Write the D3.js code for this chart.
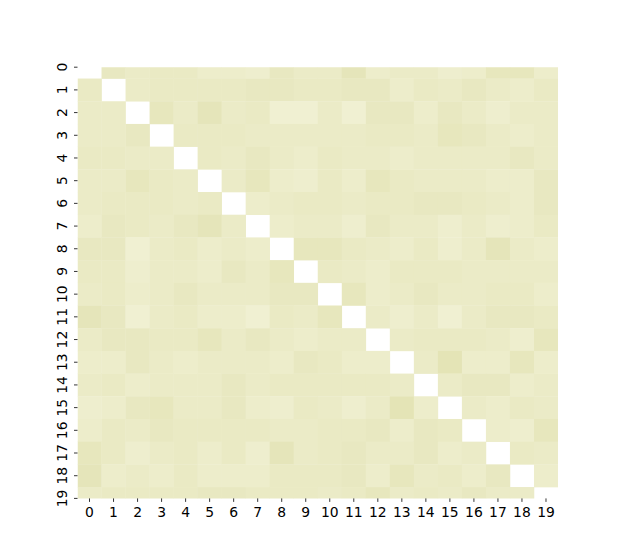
<!DOCTYPE html>
<html>
<head>
<meta charset="utf-8">
<script src="https://cdn.jsdelivr.net/npm/d3@7"></script>
<style>
  html, body { margin: 0; padding: 0; background: #ffffff; }
  svg { display: block; }
  text { font-family: "DejaVu Sans", sans-serif; }
</style>
</head>
<body>
<svg id="chart" width="620" height="560"></svg>
<script>
// Tick labels (categories) for both axes
const labels = d3.range(20).map(String);

// Cell values per row (0 = lightest, 10 = darkest); null = masked diagonal
const row0  = [null, 6, 4, 5, 5, 3, 3, 2, 6, 4, 4, 8, 3, 4, 4, 2, 3, 7, 7, 3];
const row1  = [5, null, 4, 5, 5, 5, 5, 6, 6, 5, 5, 6, 6, 3, 5, 4, 6, 4, 3, 5];
const row2  = [4, 4, null, 7, 4, 8, 4, 5, 1, 1, 4, 1, 6, 6, 3, 6, 4, 2, 4, 4];
const row3  = [4, 4, 6, null, 5, 5, 5, 4, 4, 4, 4, 4, 5, 5, 4, 7, 6, 4, 3, 4];
const row4  = [5, 5, 4, 4, null, 5, 4, 6, 4, 3, 5, 4, 4, 3, 4, 4, 4, 4, 6, 4];
const row5  = [4, 4, 7, 5, 4, null, 4, 7, 3, 2, 5, 3, 7, 5, 4, 4, 4, 3, 3, 6];
const row6  = [4, 5, 5, 5, 4, 5, null, 3, 4, 5, 5, 4, 5, 5, 6, 6, 5, 4, 3, 6];
const row7  = [3, 6, 5, 4, 6, 8, 4, null, 3, 4, 4, 2, 6, 4, 4, 2, 4, 2, 3, 5];
const row8  = [6, 6, 1, 4, 5, 3, 4, 3, null, 7, 7, 5, 4, 3, 5, 2, 4, 8, 4, 3];
const row9  = [5, 5, 2, 4, 4, 3, 6, 4, 7, null, 5, 4, 3, 5, 5, 5, 4, 4, 4, 4];
const row10 = [4, 5, 3, 4, 6, 4, 4, 4, 6, 6, null, 7, 3, 4, 6, 4, 4, 5, 5, 3];
const row11 = [8, 6, 1, 4, 5, 3, 3, 1, 5, 4, 7, null, 4, 2, 4, 1, 4, 6, 6, 5];
const row12 = [4, 6, 6, 5, 5, 7, 4, 6, 4, 3, 4, 4, null, 4, 5, 5, 5, 4, 2, 7];
const row13 = [3, 3, 6, 4, 3, 4, 4, 4, 3, 6, 5, 3, 3, null, 4, 9, 3, 3, 7, 3];
const row14 = [4, 5, 3, 4, 4, 4, 6, 4, 5, 5, 5, 5, 5, 4, null, 4, 6, 6, 3, 4];
const row15 = [2, 3, 6, 7, 4, 4, 6, 3, 2, 5, 4, 2, 4, 9, 3, null, 4, 3, 5, 4];
const row16 = [3, 5, 4, 6, 5, 5, 5, 5, 4, 4, 5, 5, 6, 3, 6, 5, null, 3, 2, 7];
const row17 = [7, 5, 2, 4, 5, 3, 5, 2, 8, 4, 5, 6, 4, 4, 6, 3, 4, null, 5, 4];
const row18 = [8, 3, 4, 3, 5, 3, 3, 3, 5, 5, 5, 6, 3, 7, 4, 5, 3, 6, null, 3];
const row19 = [4, 5, 5, 5, 5, 6, 6, 5, 5, 5, 4, 5, 7, 4, 5, 4, 6, 4, 4, null];

const rows = [row0, row1, row2, row3, row4, row5, row6, row7, row8, row9,
              row10, row11, row12, row13, row14, row15, row16, row17, row18, row19];

(function () {
  const cells = [];
  rows.forEach((r, i) => r.forEach((v, j) => { if (v !== null) cells.push({row: i, col: j, value: v}); }));

  const svg = d3.select("#chart");
  const pL = 77.5, pR = 558, pT = 67.2, pB = 498.4;

  const x = d3.scaleBand().domain(labels).range([pL, pR]).padding(0);
  // Row centres: the first and last rows are only half visible
  const y = d3.scaleLinear().domain([0, 19]).range([pT, pB]);
  const rowH = y(1) - y(0);

  const color = d3.scaleLinear().domain([0, 10])
    .range(["#f1f1d5", "#e2e2b3"]).interpolate(d3.interpolateRgb);

  svg.append("defs").append("clipPath").attr("id", "plotclip")
    .append("rect").attr("x", pL).attr("y", pT)
    .attr("width", pR - pL).attr("height", pB - pT);

  svg.append("g").attr("clip-path", "url(#plotclip)")
    .selectAll("rect").data(cells).enter().append("rect")
    .attr("x", d => x(String(d.col)))
    .attr("y", d => y(d.row) - rowH / 2)
    .attr("width", x.bandwidth() + 0.3)
    .attr("height", rowH + 0.3)
    .attr("fill", d => color(d.value));

  // X axis
  const xAxis = svg.append("g").attr("transform", `translate(0,${pB})`);
  labels.forEach(l => {
    const cx = x(l) + x.bandwidth() / 2;
    xAxis.append("line").attr("x1", cx).attr("x2", cx).attr("y1", 0).attr("y2", 3.5)
      .attr("stroke", "#000").attr("stroke-width", 0.8);
    xAxis.append("text").attr("x", cx).attr("y", 19)
      .attr("text-anchor", "middle").attr("font-size", "13.9px").attr("fill", "#000").text(l);
  });

  // Y axis (rotated labels)
  const yAxis = svg.append("g");
  labels.forEach((l, i) => {
    const cy = y(i);
    yAxis.append("line").attr("x1", pL - 3.5).attr("x2", pL).attr("y1", cy).attr("y2", cy)
      .attr("stroke", "#000").attr("stroke-width", 0.8);
    yAxis.append("text").attr("transform", `translate(${pL - 11},${cy}) rotate(-90)`)
      .attr("text-anchor", "middle").attr("font-size", "13.9px").attr("fill", "#000").text(l);
  });
})();
</script>
</body>
</html>
